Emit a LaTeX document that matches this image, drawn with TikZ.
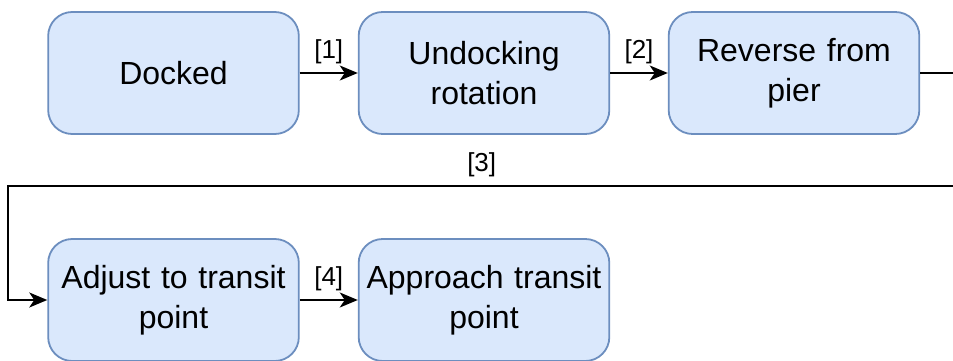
\documentclass[tikz,border=0pt]{standalone}
\usepackage{fontspec}
\setmainfont{Liberation Sans}
\usepackage{tikz}
\usetikzlibrary{positioning,arrows.meta,calc}
\definecolor{etatfond}{HTML}{DAE8FC}
\definecolor{etatbord}{HTML}{6C8EBF}

\tikzset{
  etat/.style={draw=etatbord,fill=etatfond,line width=1.8pt,rounded corners=24pt,
    minimum width=247pt,minimum height=122pt,text width=244pt,align=center,
    font=\fontsize{32}{40}\selectfont},
  fleche/.style={-{Stealth[length=18pt,width=15pt,inset=5pt]},line width=1.8pt},
  etiq/.style={font=\fontsize{26}{30}\selectfont,inner sep=0pt}
}

\begin{document}
\begin{tikzpicture}[x=1pt,y=-1pt]
    \useasboundingbox (0,0) rectangle (953,361);

    % Etats de la premiere ligne
    \node[etat] (docked) at (173.5,73) {Docked};
    \node[etat] (undock) at (484,73) {Undocking\\rotation};
    \node[etat] (reverse) at (794,73) {Reverse from\\pier};

    % Etats de la deuxieme ligne
    \node[etat] (adjust) at (173.5,300) {Adjust to transit\\point};
    \node[etat] (approach) at (484,300) {Approach transit\\point};

    % Coins du retour a la ligne
    \coordinate (droite) at (965,186);
    \coordinate (gauche) at (8,186);

    % Transitions
    \draw[fleche] (docked) -- (undock) node[etiq,midway,above=8pt] {[1]};
    \draw[fleche] (undock) -- (reverse) node[etiq,midway,above=8pt] {[2]};
    \draw[fleche] (reverse.east) -| (droite) -- (gauche) node[etiq,pos=0.505,above=8pt] {[3]}
        |- (adjust.west);
    \draw[fleche] (adjust) -- (approach) node[etiq,midway,above=8pt] {[4]};

\end{tikzpicture}
\end{document}
